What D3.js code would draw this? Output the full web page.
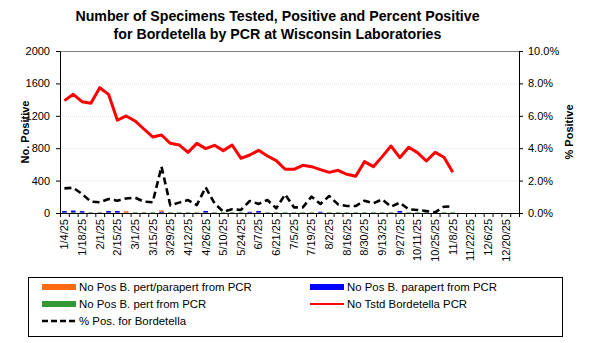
<!DOCTYPE html>
<html>
<head>
<meta charset="utf-8">
<script src="https://cdn.jsdelivr.net/npm/d3@7"></script>
<style>
  html, body { margin: 0; padding: 0; background: #fff; }
  svg { display: block; font-family: "Liberation Sans", Arial, sans-serif; }
  .axis text { font-size: 11px; fill: #000; }
  .axis path, .axis line { stroke: #000; }
</style>
</head>
<body>
<svg id="chart" width="590" height="343"></svg>
<script>
const WIDTH = 590;
const HEIGHT = 343;
const MARGIN = { top: 51, right: 71, bottom: 130, left: 60 };

// week ending dates, 2025
const weeks = [
  '1/4/25', '1/11/25', '1/18/25', '1/25/25', '2/1/25', '2/8/25', '2/15/25', '2/22/25',
  '3/1/25', '3/8/25', '3/15/25', '3/22/25', '3/29/25', '4/5/25', '4/12/25', '4/19/25',
  '4/26/25', '5/3/25', '5/10/25', '5/17/25', '5/24/25', '5/31/25', '6/7/25', '6/14/25',
  '6/21/25', '6/28/25', '7/5/25', '7/12/25', '7/19/25', '7/26/25', '8/2/25', '8/9/25',
  '8/16/25', '8/23/25', '8/30/25', '9/6/25', '9/13/25', '9/20/25', '9/27/25', '10/4/25',
  '10/11/25', '10/18/25', '10/25/25', '11/1/25', '11/8/25', '11/15/25', '11/22/25', '11/29/25',
  '12/6/25', '12/13/25', '12/20/25', '12/27/25'
];
const weekLabels = weeks.filter((d, i) => i % 2 === 0);

// counts of positives (stacked columns)
const posPertParapert = [
  0, 0, 0, 0, 0, 0, 0, 18, 0, 0, 0, 15, 0, 0, 0, 0,
  0, 0, 0, 0, 0, 0, 0, 0, 0, 0, 0, 0, 0, 0, 0, 0,
  0, 0, 0, 0, 0, 0, 0, 0, 0, 0, 0, 0, 0
];
const posParapert = [
  20, 22, 18, 0, 0, 20, 20, 0, 0, 0, 0, 12, 0, 0, 0, 0,
  20, 0, 0, 0, 0, 10, 20, 0, 0, 0, 0, 0, 0, 10, 0, 0,
  0, 0, 0, 0, 0, 0, 20, 0, 0, 0, 0, 0, 0
];
const posPert = [
  5, 8, 5, 8, 8, 5, 5, 5, 8, 8, 8, 5, 8, 8, 8, 8,
  5, 8, 8, 8, 8, 5, 5, 8, 8, 8, 8, 8, 8, 5, 8, 8,
  8, 8, 8, 8, 8, 8, 5, 8, 8, 8, 8, 8, 8
];
// specimens tested
const tested = [
  1387, 1465, 1374, 1354, 1547, 1465, 1145, 1198, 1136, 1037, 939, 963, 860, 840, 749, 860,
  795, 836, 770, 840, 675, 716, 774, 704, 646, 540, 540, 589, 572, 535, 502, 527,
  478, 453, 634, 572, 696, 827, 683, 811, 745, 642, 749, 688, 502
];
// percent positive
const pctPositive = [
  1.52, 1.56, 1.17, 0.70, 0.66, 0.86, 0.76, 0.90, 0.95, 0.70, 0.66, 2.86, 0.47, 0.64, 0.80, 0.49,
  1.58, 0.60, 0.08, 0.23, 0.19, 0.74, 0.56, 0.80, 0.29, 1.15, 0.35, 0.35, 1.01, 0.56, 1.05, 0.53,
  0.43, 0.43, 0.76, 0.60, 0.84, 0.39, 0.64, 0.23, 0.19, 0.12, 0.04, 0.39, 0.41
];
const leftTicks = [0, 400, 800, 1200, 1600, 2000];
const rightTicks = [0, 2, 4, 6, 8, 10];

const COLORS = {
  pertParapert: '#FF6A13',
  parapert: '#0000FF',
  pert: '#339933',
  tested: '#FF0000',
  pct: '#000000'
};

const svg = d3.select('#chart');
const innerWidth = WIDTH - MARGIN.left - MARGIN.right;
const innerHeight = HEIGHT - MARGIN.top - MARGIN.bottom;

const g = svg.append('g').attr('transform', `translate(${MARGIN.left},${MARGIN.top})`);

const x = d3.scaleBand().domain(weeks).range([0, innerWidth]).paddingInner(0.48).paddingOuter(0.24);
const xEdges = d3.scaleLinear().domain([0, weeks.length]).range([0, innerWidth]);
const yLeft = d3.scaleLinear().domain([0, 2000]).range([innerHeight, 0]);
const yRight = d3.scaleLinear().domain([0, 10]).range([innerHeight, 0]);

// gridlines, top one darker
g.append('g')
  .attr('class', 'grid')
  .selectAll('line')
  .data(leftTicks.slice(1))
  .join('line')
  .attr('x1', 0)
  .attr('x2', innerWidth)
  .attr('y1', (d) => yLeft(d) + 0.5)
  .attr('y2', (d) => yLeft(d) + 0.5)
  .attr('stroke', (d) => (d === 2000 ? '#808080' : '#e4e4e4'))
  .attr('stroke-dasharray', (d) => (d === 2000 ? null : '1,1'));

// stacked columns
const stackRows = weeks.slice(0, tested.length).map((w, i) => ({
  week: w,
  pert: posPert[i],
  parapert: posParapert[i],
  pertParapert: posPertParapert[i]
}));
const stack = d3.stack().keys(['pert', 'parapert', 'pertParapert'])(stackRows);

g.append('g')
  .attr('class', 'bars')
  .selectAll('g')
  .data(stack)
  .join('g')
  .attr('fill', (s) => COLORS[s.key])
  .selectAll('rect')
  .data((s) => s.filter((d) => d[1] > d[0]))
  .join('rect')
  .attr('x', (d) => x(d.data.week))
  .attr('width', x.bandwidth())
  .attr('y', (d) => yLeft(d[1]))
  .attr('height', (d) => yLeft(d[0]) - yLeft(d[1]));

// tested line
const testedLine = d3.line()
  .x((d, i) => x(weeks[i]) + x.bandwidth() / 2)
  .y((d) => yLeft(d));

g.append('path')
  .datum(tested)
  .attr('fill', 'none')
  .attr('stroke', COLORS.tested)
  .attr('stroke-width', 3)
  .attr('stroke-linejoin', 'round')
  .attr('d', testedLine);

// percent positive line
const pctLine = d3.line()
  .x((d, i) => x(weeks[i]) + x.bandwidth() / 2)
  .y((d) => yRight(d));

g.append('path')
  .datum(pctPositive)
  .attr('fill', 'none')
  .attr('stroke', COLORS.pct)
  .attr('stroke-width', 2.6)
  .attr('stroke-dasharray', '7,4')
  .attr('stroke-linejoin', 'round')
  .attr('d', pctLine);

// axes
g.append('g')
  .attr('class', 'axis y-left')
  .call(
    d3.axisLeft(yLeft)
      .tickValues(leftTicks)
      .tickSize(4)
      .tickSizeOuter(0)
      .tickPadding(6)
      .tickFormat(d3.format('d'))
  );

g.append('g')
  .attr('class', 'axis y-right')
  .attr('transform', `translate(${innerWidth},0)`)
  .call(
    d3.axisRight(yRight)
      .tickValues(rightTicks)
      .tickSize(4)
      .tickSizeOuter(0)
      .tickPadding(5)
      .tickFormat((d) => `${d.toFixed(1)}%`)
  );

g.append('g')
  .attr('class', 'axis x-ticks')
  .attr('transform', `translate(0,${innerHeight})`)
  .call(d3.axisBottom(xEdges).tickValues(d3.range(weeks.length + 1)).tickSize(4).tickSizeOuter(0).tickFormat(''))
  .call((s) => s.selectAll('text').remove());

g.append('g')
  .attr('class', 'axis x-labels')
  .attr('transform', `translate(0,${innerHeight})`)
  .call(d3.axisBottom(x).tickValues(weekLabels).tickSize(0))
  .call((s) => s.select('.domain').remove())
  .selectAll('text')
  .attr('transform', 'rotate(-90)')
  .attr('text-anchor', 'end')
  .attr('x', -6)
  .attr('y', 0)
  .attr('dy', '0.35em');

// titles
const titleLines = [
  'Number of Specimens Tested, Positive and Percent Positive',
  'for Bordetella by PCR at Wisconsin Laboratories'
];
svg.append('g')
  .attr('class', 'title')
  .selectAll('text')
  .data(titleLines)
  .join('text')
  .attr('x', 277.5)
  .attr('y', (d, i) => 21 + i * 18)
  .attr('text-anchor', 'middle')
  .attr('font-size', 14.2)
  .attr('font-weight', 'bold')
  .text((d) => d);

svg.append('text')
  .attr('transform', `translate(28.5,${MARGIN.top + innerHeight / 2}) rotate(-90)`)
  .attr('text-anchor', 'middle')
  .attr('font-size', 11)
  .attr('font-weight', 'bold')
  .text('No. Positive');

svg.append('text')
  .attr('transform', `translate(573,${MARGIN.top + innerHeight / 2}) rotate(-90)`)
  .attr('text-anchor', 'middle')
  .attr('font-size', 11)
  .attr('font-weight', 'bold')
  .text('% Positive');

// legend
const legendItems = [
  { label: 'No Pos B. pert/parapert from PCR', type: 'rect', color: COLORS.pertParapert, col: 0, row: 0 },
  { label: 'No Pos B. parapert from PCR', type: 'rect', color: COLORS.parapert, col: 1, row: 0 },
  { label: 'No Pos B. pert from PCR', type: 'rect', color: COLORS.pert, col: 0, row: 1 },
  { label: 'No Tstd Bordetella PCR', type: 'line', color: COLORS.tested, col: 1, row: 1 },
  { label: '% Pos. for Bordetella', type: 'dash', color: COLORS.pct, col: 0, row: 2 }
];

const legend = svg.append('g').attr('class', 'legend');
legend.append('rect')
  .attr('x', 28.5)
  .attr('y', 277.5)
  .attr('width', 534)
  .attr('height', 59)
  .attr('fill', 'none')
  .attr('stroke', '#000');

const legendRow = legend.selectAll('g.item')
  .data(legendItems)
  .join('g')
  .attr('class', 'item')
  .attr('transform', (d) => `translate(${d.col === 0 ? 42 : 310},${287 + d.row * 17})`);

legendRow.filter((d) => d.type === 'rect')
  .append('rect')
  .attr('x', 0)
  .attr('y', -3)
  .attr('width', 34)
  .attr('height', 6)
  .attr('fill', (d) => d.color);

legendRow.filter((d) => d.type !== 'rect')
  .append('line')
  .attr('x1', 0)
  .attr('x2', 34)
  .attr('stroke', (d) => d.color)
  .attr('stroke-width', (d) => (d.type === 'line' ? 2 : 2.5))
  .attr('stroke-dasharray', (d) => (d.type === 'dash' ? '6,3' : null));

legendRow.append('text')
  .attr('x', 37)
  .attr('dy', '0.35em')
  .attr('font-size', 11.4)
  .text((d) => d.label);
</script>
</body>
</html>
